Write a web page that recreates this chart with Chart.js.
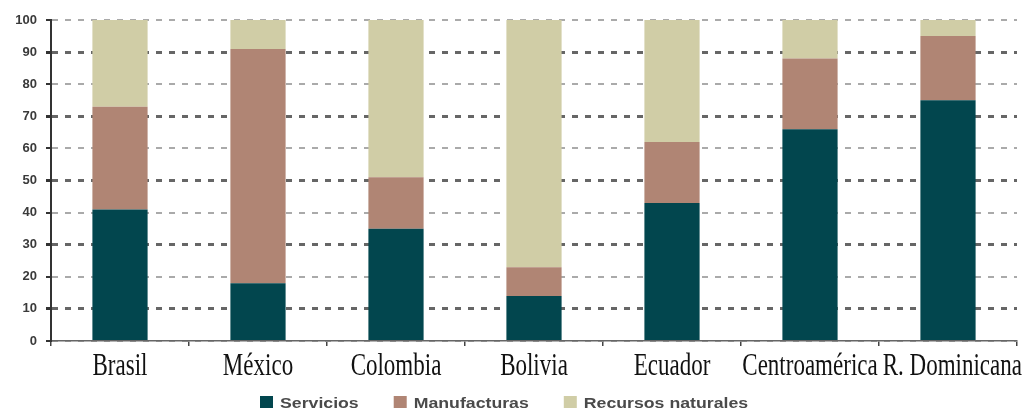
<!DOCTYPE html>
<html>
<head>
<meta charset="utf-8">
<script src="https://cdn.jsdelivr.net/npm/chart.js@4.4.0/dist/chart.umd.min.js"></script>
<style>
  html, body { margin: 0; padding: 0; background: #fff; }
  #wrap { width: 1031px; height: 409px; }
</style>
</head>
<body>
<div id="wrap"><canvas id="grafico"></canvas></div>
<script>
// participación por sector (%)
const paises = ['Brasil', 'México', 'Colombia', 'Bolivia', 'Ecuador', 'Centroamérica', 'R. Dominicana'];
const servicios = [41, 18, 35, 14, 43, 66, 75];
const manufacturas = [32, 73, 16, 9, 19, 22, 20];
const recursos = [27, 9, 49, 77, 38, 12, 5];
const marcasY = [0, 10, 20, 30, 40, 50, 60, 70, 80, 90, 100];

// etiquetas del eje x (serif, estiradas en vertical) y leyenda inferior
const textos = {
  id: 'textos',
  afterDraw(chart) {
    const ctx = chart.ctx;
    const x = chart.scales.x;
    ctx.save();
    ctx.fillStyle = '#111';
    ctx.font = '23px "Liberation Serif", "Times New Roman", serif';
    ctx.textAlign = 'left';
    ctx.textBaseline = 'alphabetic';
    let finAnterior = -Infinity;
    paises.forEach((p, i) => {
      const w = ctx.measureText(p).width;
      // si choca con la etiqueta anterior, se corre a la derecha
      const izq = Math.max(x.getPixelForValue(i) - w / 2, finAnterior + 5);
      ctx.save();
      ctx.translate(izq, 374.5);
      ctx.scale(1, 1.38);
      ctx.fillText(p, 0, 0);
      ctx.restore();
      finAnterior = izq + w;
    });

    ctx.font = 'bold 15px "Liberation Sans", Arial, sans-serif';
    let lx = 260;
    chart.data.datasets.forEach(ds => {
      ctx.fillStyle = ds.backgroundColor;
      ctx.fillRect(lx, 396, 13, 12);
      ctx.fillStyle = '#4a4a4a';
      ctx.save();
      ctx.translate(lx + 20, 408);
      ctx.scale(1.18, 1);
      ctx.fillText(ds.label, 0, 0);
      const w = ctx.measureText(ds.label).width * 1.18;
      ctx.restore();
      lx += 20 + w + 35;
    });
    ctx.restore();
  }
};

new Chart(document.getElementById('grafico'), {
  type: 'bar',
  data: {
    labels: paises,
    datasets: [
      { label: 'Servicios', data: servicios, backgroundColor: '#02464E' },
      { label: 'Manufacturas', data: manufacturas, backgroundColor: '#B08574' },
      { label: 'Recursos naturales', data: recursos, backgroundColor: '#D0CDA6' }
    ]
  },
  options: {
    responsive: true,
    maintainAspectRatio: false,
    animation: false,
    layout: { padding: { top: 20, right: 14, left: 0, bottom: 0 } },
    datasets: { bar: { categoryPercentage: 1, barPercentage: 0.4 } },
    plugins: { legend: { display: false }, tooltip: { enabled: false } },
    scales: {
      x: {
        stacked: true,
        afterFit(s) { s.height = 68; },
        ticks: { display: false },
        grid: { offset: true, drawOnChartArea: false, tickLength: 5, tickColor: '#444', lineWidth: 1.5 },
        border: { color: '#666', width: 1.5 }
      },
      y: {
        stacked: true,
        min: 0,
        max: 100,
        afterFit(s) { s.width = 51; },
        afterBuildTicks(s) { s.ticks = marcasY.map(v => ({ value: v })); },
        ticks: {
          padding: 9,
          color: '#3a3a3a',
          font: { family: '"Liberation Sans", Arial, sans-serif', size: 13, weight: 'bold' }
        },
        grid: {
          tickLength: 5,
          tickColor: '#333',
          color: c => (c.tick && c.tick.value % 20 === 10) ? '#666' : '#aaa',
          lineWidth: c => (c.tick && c.tick.value % 20 === 10) ? 3 : 2
        },
        border: { color: '#333', width: 2, dash: [6, 7] }
      }
    }
  },
  plugins: [textos]
});
</script>
</body>
</html>
